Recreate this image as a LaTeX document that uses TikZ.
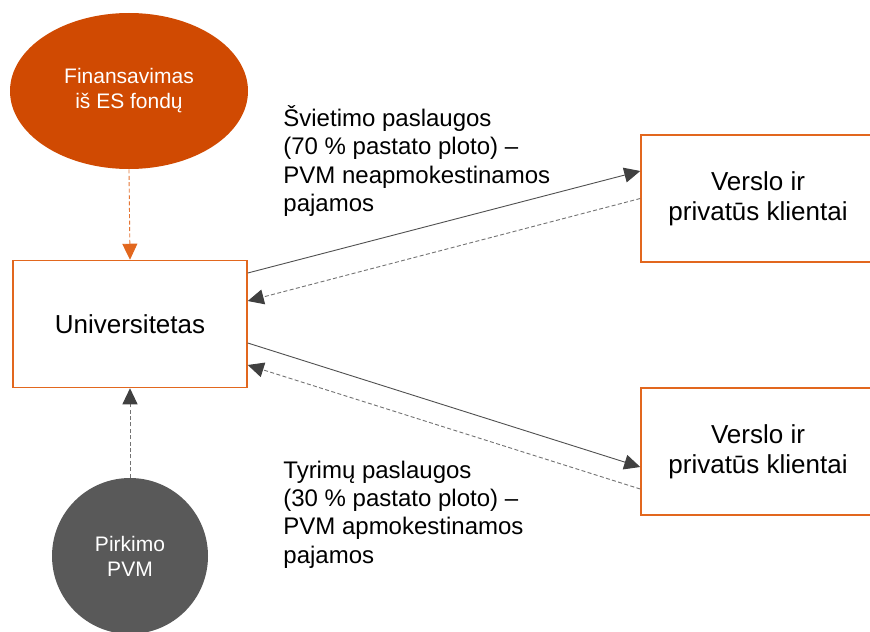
\documentclass[tikz,border=0pt]{standalone}
\usepackage{fontspec}
\setmainfont{Liberation Sans}
\usetikzlibrary{arrows.meta,shapes.geometric}
\definecolor{pwcorange}{HTML}{D04A02}
\definecolor{boxorange}{HTML}{E2671E}
\definecolor{darkgrey}{HTML}{595959}
\definecolor{linegrey}{HTML}{505050}
\definecolor{tipgrey}{HTML}{404040}
\tikzset{
  box/.style={draw=boxorange, line width=0.75pt, minimum width=117pt, minimum height=63.5pt, inner sep=0pt, align=center, font=\fontsize{13}{15}\selectfont},
  lbl/.style={align=left, inner sep=0pt, font=\fontsize{12}{14.2}\selectfont},
  tip/.style={-{Triangle[length=8pt,width=7.5pt,color=tipgrey,fill=tipgrey]}},
  solidarr/.style={tip, draw=linegrey, line width=0.45pt},
  dasharr/.style={tip, draw=linegrey!80, line width=0.45pt, dash pattern=on 2pt off 1.2pt},
}
\begin{document}
\begin{tikzpicture}[x=0.5pt,y=-0.5pt]
\clip (0,0) rectangle (870,631);
\fill[white] (0,0) rectangle (870,631);
\node[ellipse, fill=pwcorange, minimum width=119pt, minimum height=78pt, inner sep=0pt, text=white, align=center, font=\fontsize{10.5}{12.5}\selectfont] (fin) at (129,91) {Finansavimas\\iš ES fondų};
\node[circle, fill=darkgrey, minimum size=78pt, inner sep=0pt, text=white, align=center, font=\fontsize{10.5}{12.5}\selectfont] (pvm) at (130,556) {Pirkimo\\PVM};
\node[box] (uni) at (130,324) {Universitetas};
\node[box] (vr1) at (758,198.5) {Verslo ir\\privatūs klientai};
\node[box] (vr2) at (758,451.5) {Verslo ir\\privatūs klientai};
\node[lbl, anchor=base west] (l1) at (283,211.7) {Švietimo paslaugos\\(70 \% pastato ploto) –\\PVM neapmokestinamos\\pajamos};
\node[lbl, anchor=base west] (l2) at (283,563.2) {Tyrimų paslaugos\\(30 \% pastato ploto) –\\PVM apmokestinamos\\pajamos};
\draw[-{Triangle[length=8pt,width=7.5pt,color=boxorange,fill=boxorange]}, draw=boxorange!90, line width=0.45pt, dash pattern=on 2pt off 1.2pt] (fin.south) -- (uni.north);
\draw[dasharr] (pvm.north) -- (uni.south);
\draw[solidarr] ([yshift=25.5pt]uni.east) -- ([yshift=13.75pt]vr1.west);
\draw[dasharr] (vr1.west) -- ([yshift=11.5pt]uni.east);
\draw[solidarr] ([yshift=-9.5pt]uni.east) -- ([yshift=-7.75pt]vr2.west);
\draw[dasharr] ([yshift=-18.75pt]vr2.west) -- ([yshift=-20.5pt]uni.east);
\end{tikzpicture}
\end{document}
